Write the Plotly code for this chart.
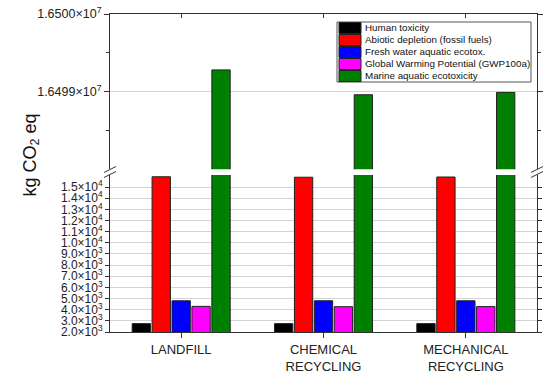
import plotly.graph_objects as go

categories = ["LANDFILL", "CHEMICAL<br>RECYCLING", "MECHANICAL<br>RECYCLING"]
series_names = ["Human toxicity", "Abiotic depletion (fossil fuels)", "Fresh water aquatic ecotox.",
                "Global Warming Potential (GWP100a)", "Marine aquatic ecotoxicity"]
human_toxicity = [2750, 2750, 2750]
abiotic_depletion = [15920, 15880, 15900]
fresh_water = [4800, 4800, 4800]
gwp100a = [4300, 4270, 4280]
marine = [16499280, 16498960, 16498990]
colors = ["#000000", "#ff0000", "#0000ff", "#ff00ff", "#008000"]

lower_ticks = list(range(2000, 16000, 1000))
lower_text = ["2.0×10<sup>3</sup>", "3.0×10<sup>3</sup>", "4.0×10<sup>3</sup>", "5.0×10<sup>3</sup>",
              "6.0×10<sup>3</sup>", "7.0×10<sup>3</sup>", "8.0×10<sup>3</sup>", "9.0×10<sup>3</sup>",
              "1.0×10<sup>4</sup>", "1.1×10<sup>4</sup>", "1.2×10<sup>4</sup>", "1.3×10<sup>4</sup>",
              "1.4×10<sup>4</sup>", "1.5×10<sup>4</sup>"]
upper_ticks = [16499000, 16500000]
upper_text = ["1.6499×10<sup>7</sup>", "1.6500×10<sup>7</sup>"]

all_series = [human_toxicity, abiotic_depletion, fresh_water, gwp100a, marine]

W, H = 550, 375
ML, MR, MT, MB = 110, 13, 14, 43
PW, PH = W - ML - MR, H - MT - MB

def px_x(p):
    return (p - ML) / PW

def px_y(p):
    return (H - MB - p) / PH

fig = go.Figure()
for name, vals, col in zip(series_names, all_series, colors):
    fig.add_trace(go.Bar(x=categories, y=vals, name=name, marker_color=col,
                         marker_line=dict(color="#222222", width=1),
                         xaxis="x", yaxis="y", showlegend=False))
    fig.add_trace(go.Bar(x=categories, y=vals, name=name, marker_color=col,
                         marker_line=dict(color="#222222", width=1),
                         xaxis="x2", yaxis="y2", showlegend=False))

font = "Liberation Sans, Arial, sans-serif"
lower_top = 16080
fig.update_layout(
    width=W, height=H,
    margin=dict(l=ML, r=MR, t=MT, b=MB, autoexpand=False),
    paper_bgcolor="white", plot_bgcolor="white",
    barmode="group", bargap=0.30, bargroupgap=0.08,
    font=dict(family=font, color="#222222", size=12),
    xaxis=dict(domain=[0, 1], anchor="y", showline=True, linecolor="#333333", linewidth=1,
               ticks="outside", ticklen=5, tickcolor="#333333", automargin=False,
               tickfont=dict(size=13, color="#222222")),
    xaxis2=dict(domain=[0, 1], anchor="y2", matches="x", side="top", showline=True,
                linecolor="#333333", linewidth=1, showticklabels=False, automargin=False,
                ticks="inside", ticklen=4, tickcolor="#333333"),
    yaxis=dict(domain=[0, px_y(175)], range=[2000, lower_top], tickmode="array",
               tickvals=lower_ticks, ticktext=lower_text, showline=True, linecolor="#333333",
               linewidth=1, mirror="ticks", ticks="outside", ticklen=4, tickcolor="#333333",
               showgrid=True, gridcolor="#d3d3d3", gridwidth=1, zeroline=False,
               automargin=False, tickfont=dict(size=12)),
    yaxis2=dict(domain=[px_y(169.3), 1], range=[16498000, 16500000], tickmode="array",
                tickvals=upper_ticks, ticktext=upper_text, showline=True, linecolor="#333333",
                linewidth=1, mirror="ticks", ticks="outside", ticklen=5, tickcolor="#333333",
                showgrid=True, gridcolor="#d3d3d3", gridwidth=1, zeroline=False,
                automargin=False,
                minor=dict(tickmode="array", tickvals=[16498500, 16499500], ticks="outside",
                           ticklen=3, tickcolor="#333333", showgrid=False),
                tickfont=dict(size=12.5)),
    showlegend=False,
)

fig.add_annotation(text="kg CO<sub>2</sub> eq", xref="paper", yref="paper",
                   x=px_x(17), y=px_y(155), textangle=-90, showarrow=False,
                   font=dict(size=18, color="#111111", family=font))

# manual legend (box, colour swatches, labels)
LX0, LX1, LY0, LY1 = 337, 531, 22, 82
fig.add_shape(type="rect", xref="paper", yref="paper", x0=px_x(LX0), x1=px_x(LX1),
              y0=px_y(LY1), y1=px_y(LY0), fillcolor="white", line=dict(color="#555555", width=1))
for i, (name, col) in enumerate(zip(series_names, colors)):
    yc = LY0 + 6 + 12 * i
    fig.add_shape(type="rect", xref="paper", yref="paper", x0=px_x(339), x1=px_x(361),
                  y0=px_y(yc + 5.5), y1=px_y(yc - 5.5), fillcolor=col,
                  line=dict(color="#222222", width=1))
    fig.add_annotation(text=name, xref="paper", yref="paper", x=px_x(363), y=px_y(yc),
                       xanchor="left", yanchor="middle", showarrow=False,
                       font=dict(size=9.8, color="#111111", family=font))

# axis break marks
for xb in (ML, W - MR):
    for yb in (169.5, 174.5):
        fig.add_shape(type="line", xref="paper", yref="paper",
                      x0=px_x(xb - 6), y0=px_y(yb + 3), x1=px_x(xb + 6), y1=px_y(yb - 3),
                      line=dict(color="#333333", width=1))

fig.write_html("out.html", config={"displayModeBar": False},
               post_script="document.body.style.margin='0px';")
